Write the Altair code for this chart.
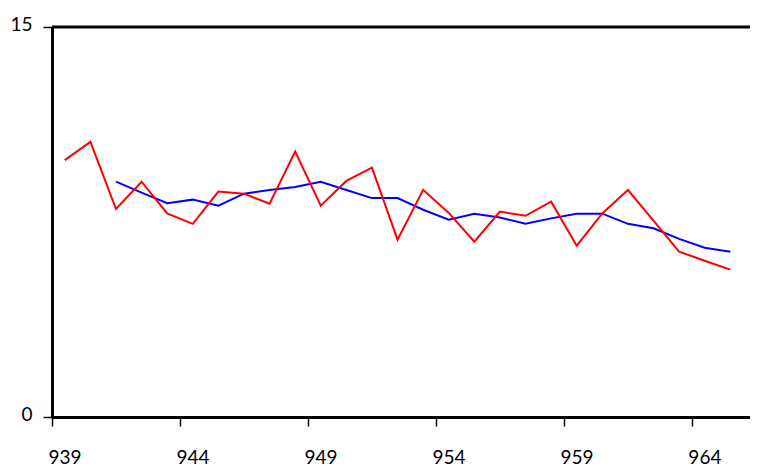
import altair as alt
import pandas as pd

years = [939, 940, 941, 942, 943, 944, 945, 946, 947, 948, 949, 950, 951, 952,
         953, 954, 955, 956, 957, 958, 959, 960, 961, 962, 963, 964, 965]
red_values = [9.88, 10.58, 8.00, 9.05, 7.83, 7.43, 8.67, 8.59, 8.20, 10.21, 8.13,
              9.08, 9.59, 6.82, 8.74, 7.85, 6.74, 7.90, 7.74, 8.28, 6.59, 7.83,
              8.73, 7.55, 6.36, 6.01, 5.67]
blue_values = [None, None, 9.05, 8.63, 8.22, 8.36, 8.13, 8.59, 8.73, 8.85, 9.05,
               8.73, 8.42, 8.42, 7.97, 7.59, 7.82, 7.67, 7.43, 7.64, 7.82, 7.82,
               7.43, 7.26, 6.85, 6.51, 6.36]
x_ticks = [939, 944, 949, 954, 959, 964]
y_ticks = [0, 15]

W, H = 698, 390

red_df = pd.DataFrame({"year": years, "value": red_values})
blue_df = pd.DataFrame({"year": years, "value": blue_values}).dropna()

x_enc = alt.X(
    "xpos:Q",
    scale=alt.Scale(domain=[939, 966.27], nice=False, zero=False),
    axis=alt.Axis(values=x_ticks, format="d", title=None, grid=False,
                  tickSize=9, tickWidth=1.5, labelPadding=22, labelOffset=12.5,
                  labelFlush=False, labelOverlap=False, domainWidth=3),
)
y_enc = alt.Y(
    "value:Q",
    scale=alt.Scale(domain=[0, 15], nice=False, zero=True),
    axis=alt.Axis(values=y_ticks, title=None, grid=False, tickSize=9,
                  tickWidth=1.5, labelPadding=11, labelOffset=-3,
                  labelBaseline="middle", labelFlush=False, domainWidth=3),
)

blue_line = alt.Chart(blue_df).transform_calculate(
    xpos="datum.year + 0.5"
).mark_line(color="#0000ff", strokeWidth=2).encode(x=x_enc, y=y_enc)

red_line = alt.Chart(red_df).transform_calculate(
    xpos="datum.year + 0.5"
).mark_line(color="#ff0000", strokeWidth=2).encode(x=x_enc, y=y_enc)

top_line = alt.Chart(pd.DataFrame({"a": [0]})).mark_rule(
    color="black", strokeWidth=3
).encode(y=alt.value(0), x=alt.value(0), x2=alt.value(W))

chart = alt.layer(blue_line, red_line, top_line).properties(
    width=W, height=H,
    autosize=alt.AutoSizeParams(type="none"),
    padding={"left": 44, "top": 19, "right": 0, "bottom": 50},
).configure_view(stroke=None).configure_axis(
    domainColor="black", tickColor="black", labelColor="black",
    labelFont="Lato", labelFontSize=19,
)

chart.save("out.html", embed_options={"renderer": "svg", "actions": False})
